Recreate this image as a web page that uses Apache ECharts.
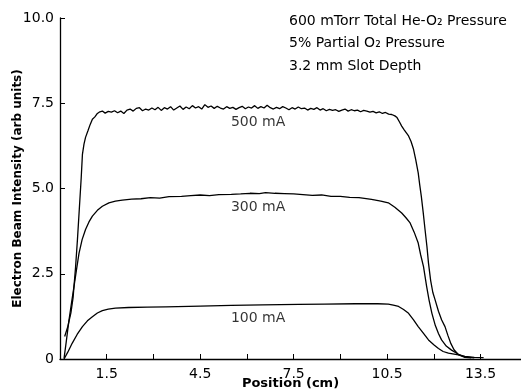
<!DOCTYPE html>
<html>
<head>
<meta charset="utf-8">
<script src="https://cdn.jsdelivr.net/npm/echarts@6/dist/echarts.min.js"></script>
<style>
  html, body { margin: 0; padding: 0; background: #fff; }
  #main { width: 521px; height: 392px; }
</style>
</head>
<body>
<div id="main"></div>
<script>
// 500 mA trace (position cm / intensity)
const x500 = [0.15,0.25,0.35,0.42,0.5,0.56,0.62,0.68,0.72,0.77,0.82,0.9,0.97,1.04,1.12,1.2,1.28,1.36,1.45,1.55,1.65,1.75,1.85,1.95,2.05,2.15,2.25,2.35,2.45,2.55,2.65,2.75,2.85,2.95,3.05,3.15,3.25,3.35,3.45,3.55,3.65,3.75,3.85,3.95,4.05,4.15,4.25,4.35,4.45,4.55,4.65,4.75,4.85,4.95,5.05,5.15,5.25,5.35,5.45,5.55,5.65,5.75,5.85,5.95,6.05,6.15,6.25,6.35,6.45,6.55,6.65,6.75,6.85,6.95,7.05,7.15,7.25,7.35,7.45,7.55,7.65,7.75,7.85,7.95,8.05,8.15,8.25,8.35,8.45,8.55,8.65,8.75,8.85,8.95,9.05,9.15,9.25,9.35,9.45,9.55,9.65,9.75,9.85,9.95,10.05,10.15,10.25,10.35,10.45,10.55,10.65,10.75,10.82,10.9,10.97,11.05,11.12,11.19,11.27,11.35,11.42,11.5,11.55,11.6,11.66,11.72,11.78,11.83,11.9,11.97,12.04,12.15,12.25,12.36,12.45,12.55,12.65,12.8,13.0,13.2];
const y500 = [0.66,0.95,1.35,1.8,2.7,3.5,4.4,5.3,6.0,6.3,6.5,6.7,6.88,7.03,7.1,7.2,7.25,7.27,7.21,7.26,7.24,7.28,7.22,7.27,7.2,7.3,7.33,7.27,7.35,7.37,7.28,7.33,7.3,7.36,7.31,7.38,7.29,7.37,7.33,7.4,7.3,7.36,7.42,7.32,7.39,7.34,7.43,7.36,7.4,7.33,7.46,7.38,7.42,7.35,7.41,7.36,7.33,7.4,7.35,7.38,7.32,7.37,7.41,7.34,7.39,7.36,7.43,7.35,7.4,7.36,7.44,7.37,7.33,7.38,7.34,7.4,7.36,7.31,7.37,7.33,7.39,7.34,7.36,7.3,7.35,7.32,7.37,7.3,7.34,7.28,7.32,7.29,7.31,7.26,7.3,7.33,7.27,7.31,7.28,7.3,7.25,7.29,7.27,7.24,7.26,7.22,7.25,7.2,7.23,7.18,7.17,7.13,7.08,6.95,6.83,6.72,6.63,6.54,6.38,6.15,5.85,5.46,5.1,4.77,4.3,3.79,3.3,2.81,2.3,1.95,1.74,1.4,1.15,0.95,0.7,0.45,0.27,0.12,0.05,0.03];

// 300 mA trace
const x300 = [0.13,0.2,0.29,0.37,0.45,0.53,0.61,0.71,0.82,0.93,1.04,1.2,1.36,1.57,1.78,2.0,2.3,2.6,2.9,3.2,3.5,3.9,4.2,4.5,4.8,5.1,5.5,5.8,6.1,6.4,6.6,6.9,7.2,7.5,7.8,8.1,8.4,8.7,9.0,9.3,9.6,10.0,10.3,10.54,10.75,10.97,11.1,11.24,11.37,11.5,11.58,11.67,11.77,11.85,11.94,12.05,12.15,12.25,12.4,12.57,12.79,13.0,13.3];
const y300 = [0.02,0.5,1.15,1.65,2.13,2.62,3.1,3.5,3.8,4.02,4.19,4.36,4.48,4.58,4.63,4.66,4.69,4.7,4.73,4.72,4.76,4.77,4.79,4.81,4.79,4.82,4.83,4.84,4.86,4.85,4.88,4.86,4.85,4.84,4.82,4.8,4.81,4.77,4.77,4.74,4.73,4.68,4.63,4.58,4.45,4.28,4.15,3.99,3.72,3.4,3.05,2.71,2.13,1.72,1.34,0.98,0.75,0.56,0.38,0.26,0.14,0.06,0.03];

// 100 mA trace
const x100 = [0.13,0.25,0.39,0.55,0.72,0.88,1.04,1.2,1.36,1.55,1.78,2.2,2.8,3.4,4.5,5.5,6.5,7.66,8.5,9.48,10.2,10.54,10.7,10.87,11.03,11.19,11.35,11.5,11.67,11.83,12.0,12.15,12.3,12.47,12.79,13.0,13.3,13.6];
const y100 = [0.0,0.2,0.46,0.72,0.95,1.12,1.24,1.35,1.42,1.46,1.49,1.51,1.52,1.53,1.55,1.57,1.59,1.6,1.61,1.62,1.62,1.61,1.58,1.54,1.45,1.34,1.15,0.95,0.75,0.56,0.42,0.31,0.22,0.17,0.12,0.08,0.05,0.04];

// curve labels: [name, x, y]
const curveLabels = [['500 mA', 6.36, 6.95], ['300 mA', 6.36, 4.46], ['100 mA', 6.36, 1.2]];
const xTicks = [0, 1.5, 3, 4.5, 6, 7.5, 9, 10.5, 12, 13.5];
const yTicks = [0, 2.5, 5.0, 7.5, 10.0];
const noteLines = ['600 mTorr Total He-O\u2082 Pressure', '5% Partial O\u2082 Pressure', '3.2 mm Slot Depth'];

const font = 'DejaVu Sans';
const pairs = (xs, ys) => xs.map((x, i) => [x, ys[i]]);

const chart = echarts.init(document.getElementById('main'));

const lineSeries = (data) => ({
    type: 'line',
    data: data,
    symbol: 'none',
    smooth: false,
    lineStyle: { color: '#000', width: 1.3 },
    silent: true
});

chart.setOption({
    animation: false,
    backgroundColor: '#fff',
    grid: { left: 60, right: 0, top: 18, bottom: 33, containLabel: false, outerBoundsMode: 'none' },
    xAxis: {
        type: 'value',
        min: 0,
        max: 14.8,
        interval: 1.5,
        name: 'Position (cm)',
        nameLocation: 'middle',
        nameGap: 18,
        nameMoveOverlap: false,
        nameTextStyle: { fontFamily: font, fontSize: 13, fontWeight: 'bold', color: '#000' },
        axisLine: { lineStyle: { color: '#000', width: 1.3 } },
        axisTick: { inside: true, length: 5, lineStyle: { color: '#000' } },
        splitLine: { show: false },
        axisLabel: {
            fontFamily: font, fontSize: 14, color: '#000', margin: 8,
            showMaxLabel: false,
            formatter: v => (xTicks.indexOf(v) % 2 === 1 ? String(v) : '')
        }
    },
    yAxis: {
        type: 'value',
        min: 0,
        max: 10,
        interval: 2.5,
        name: 'Electron Beam Intensity (arb units)',
        nameLocation: 'middle',
        nameGap: 36,
        nameMoveOverlap: false,
        nameTextStyle: { fontFamily: font, fontSize: 12, fontWeight: 'bold', color: '#000' },
        axisLine: { show: true, lineStyle: { color: '#000', width: 1.3 } },
        axisTick: { show: true, inside: true, length: 5, lineStyle: { color: '#000' } },
        splitLine: { show: false },
        axisLabel: {
            fontFamily: font, fontSize: 14, color: '#000', margin: 6,
            formatter: v => (v === 0 ? '0' : v.toFixed(1))
        }
    },
    series: [
        lineSeries(pairs(x500, y500)),
        lineSeries(pairs(x300, y300)),
        lineSeries(pairs(x100, y100)),
        {
            type: 'scatter',
            symbolSize: 0,
            silent: true,
            data: curveLabels.map(d => ({ value: [d[1], d[2]], name: d[0] })),
            label: {
                show: true,
                position: 'inside',
                formatter: p => p.name,
                fontFamily: font, fontSize: 14, color: '#000'
            }
        }
    ],
    graphic: noteLines.map((t, i) => ({
        type: 'text',
        left: 289,
        top: 14 + i * 22.5,
        style: { text: t, font: '14px "DejaVu Sans"', fill: '#000' }
    }))
});
</script>
</body>
</html>
